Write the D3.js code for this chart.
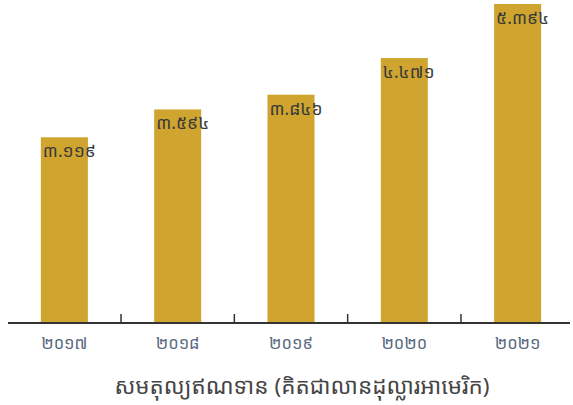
<!DOCTYPE html>
<meta charset="utf-8">
<html>
<head>
<script src="https://d3js.org/d3.v7.min.js"></script>
<style>
    body {
        margin: 0;
        background-color: #fff;
        font-family: "Noto Sans Khmer", "Khmer OS", "Noto Sans", sans-serif;
    }
</style>
</head>
<body>
<svg id="chart"></svg>

<script>
    // data
    const years = ["២០១៧", "២០១៨", "២០១៩", "២០២០", "២០២១"];
    const values = [3.119, 3.594, 3.846, 4.471, 5.394];
    const valueLabels = ["៣.១១៩", "៣.៥៩៤", "៣.៨៤៦", "៤.៤៧១", "៥.៣៩៤"];
    const axisTitle = "សមតុល្យឥណទាន (គិតជាលានដុល្លារអាមេរិក)";

    // dimensions
    let width = 573, height = 405;
    let baseY = 322;

    let svg = d3.select("#chart")
        .attr("width", width)
        .attr("height", height);

    let x = d3.scaleBand()
        .domain(years)
        .range([8, 574])
        .paddingInner(0.585)
        .paddingOuter(0.29);

    let y = d3.scaleLinear()
        .domain([0, 5.394])
        .range([320, 4]);

    // bars (run down to the axis line)
    svg.append("g")
        .selectAll("rect")
        .data(years)
        .enter()
        .append("rect")
            .attr("x", d => x(d))
            .attr("y", (d, i) => y(values[i]))
            .attr("width", x.bandwidth())
            .attr("height", (d, i) => baseY - y(values[i]))
            .attr("fill", "#cfa52f");

    // value labels inside bar tops
    svg.append("g")
        .selectAll("text")
        .data(years)
        .enter()
        .append("text")
            .attr("x", d => x(d) + 2)
            .attr("y", (d, i) => y(values[i]) + 20)
            .attr("font-size", 17.5)
            .attr("fill", "#3a3a3a")
            .text((d, i) => valueLabels[i]);

    // axis line
    svg.append("line")
        .attr("x1", 8).attr("x2", 570)
        .attr("y1", baseY + 1).attr("y2", baseY + 1)
        .attr("stroke", "#333")
        .attr("stroke-width", 2);

    // small ticks between bands
    let step = x.step();
    svg.append("g")
        .selectAll("line")
        .data(years.slice(1))
        .enter()
        .append("line")
            .attr("x1", d => x(d) - step * 0.585 / 2)
            .attr("x2", d => x(d) - step * 0.585 / 2)
            .attr("y1", baseY + 1)
            .attr("y2", baseY - 8)
            .attr("stroke", "#333")
            .attr("stroke-width", 1.5);

    // year labels
    svg.append("g")
        .selectAll("text")
        .data(years)
        .enter()
        .append("text")
            .attr("x", d => x(d) + x.bandwidth() / 2)
            .attr("y", 349)
            .attr("text-anchor", "middle")
            .attr("font-size", 16.5)
            .attr("fill", "#5b6b82")
            .text(d => d);

    // axis title
    svg.append("text")
        .attr("x", 302)
        .attr("y", 394)
        .attr("text-anchor", "middle")
        .attr("font-size", 22.5)
        .attr("fill", "#454545")
        .text(axisTitle);
</script>
</body>
</html>
